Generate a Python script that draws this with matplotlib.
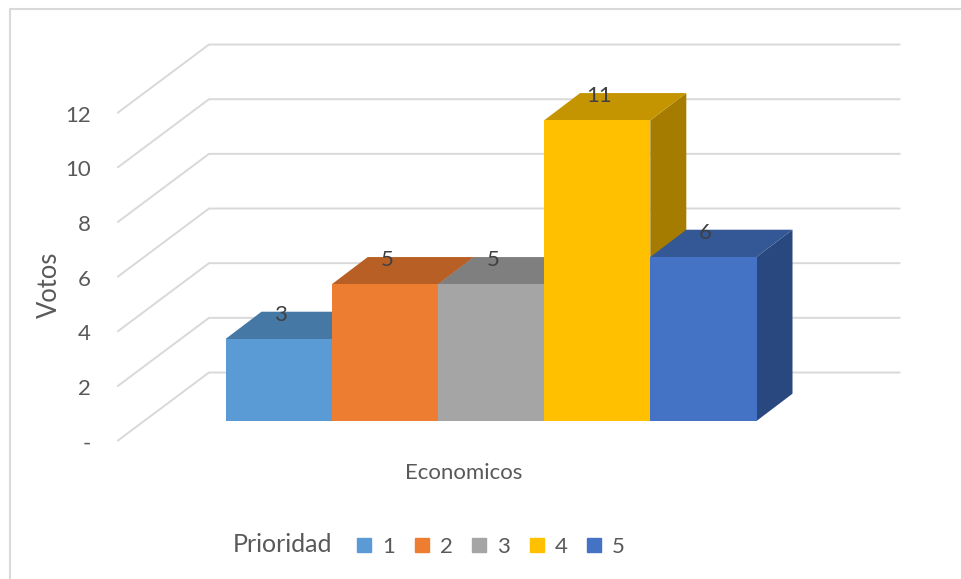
import matplotlib
matplotlib.use("Agg")
import matplotlib.pyplot as plt
from matplotlib.lines import Line2D
from matplotlib.patches import Patch

plt.rcParams['font.family'] = ['Lato', 'DejaVu Sans']

# data
prioridad = ['1', '2', '3', '4', '5']
votos = [3, 5, 5, 11, 6]
y_ticks = [0, 2, 4, 6, 8, 10, 12]
y_labels = ['-', '2', '4', '6', '8', '10', '12']
categoria = 'Economicos'

front_colors = ['#5B9BD5', '#ED7D31', '#A5A5A5', '#FFC000', '#4472C4']
top_colors = ['#4678A5', '#B85F26', '#7F7F7F', '#C49500', '#345796']
side_colors = ['#39618A', '#9C501F', '#6B6B6B', '#A67C00', '#29487F']
grid_color = '#D9D9D9'
text_color = '#595959'
label_color = '#404040'

# pixel scale of the plot: one bar wide / one vote high
W, H = 961, 579
px_x = 106.2
px_y = 27.33
x0_px = 225.5
y0_px = 421

fig = plt.figure(figsize=(W / 100, H / 100), dpi=100)
ax = fig.add_axes([0, 0, 1, 1])
ax.set_xlim(-x0_px / px_x, (W - x0_px) / px_x)
ax.set_ylim((y0_px - H) / px_y, y0_px / px_y)
ax.axis('off')

# depth of the fake 3d boxes
depth_x = 36 / px_x
depth_y = 27.3 / px_y

# walls of the chart
wall_x = (209 - x0_px) / px_x
wall_y = (y0_px - 372.5) / px_y
corner_x = (118 - x0_px) / px_x
corner_y = (y0_px - 440.5) / px_y
right_x = (899.5 - x0_px) / px_x

for t, lab in zip(y_ticks, y_labels):
    ax.plot([corner_x, wall_x, right_x], [corner_y + t, wall_y + t, wall_y + t],
            color=grid_color, lw=1.4, solid_joinstyle='miter', zorder=1)
    ax.text(corner_x - 27.5 / px_x, corner_y + t - 3 / px_y, lab, ha='right', va='center',
            fontsize=16, color=text_color)

# boxes, left to right so that the next one covers the side of the last
for i, v in enumerate(votos):
    z = 2 + i
    ax.fill([i + 1, i + 1 + depth_x, i + 1 + depth_x, i + 1],
            [0, depth_y, v + depth_y, v], color=side_colors[i], lw=0, zorder=z)
    ax.fill([i, i + depth_x, i + 1 + depth_x, i + 1],
            [v, v + depth_y, v + depth_y, v], color=top_colors[i], lw=0, zorder=z)
    ax.bar(i, v, width=1, align='edge', color=front_colors[i], lw=0, zorder=z)

for i, v in enumerate(votos):
    ax.text(i + 0.52, v + 0.89, str(v), ha='center', va='center',
            fontsize=16, color=label_color, zorder=10)

ax.text((464 - x0_px) / px_x, (y0_px - 473) / px_y, categoria, ha='center', va='center',
        fontsize=16, color=text_color)
ax.text((49 - x0_px) / px_x, (y0_px - 285) / px_y, 'Votos', ha='center', va='center',
        rotation=90, fontsize=18.4, color=text_color)
ax.text((233 - x0_px) / px_x, (y0_px - 545) / px_y, 'Prioridad', ha='left', va='center',
        fontsize=18, color=text_color)

handles = [Patch(color=c, label=p) for c, p in zip(front_colors, prioridad)]
ax.legend(handles=handles, ncol=5, frameon=False, loc='center left',
          bbox_to_anchor=(357 / W, 1 - 547 / H), fontsize=16, labelcolor=text_color,
          handlelength=0.63, handleheight=0.63, handletextpad=0.5, columnspacing=0.88,
          borderpad=0, borderaxespad=0)

# frame of the chart (only top and left show in the crop)
fig.add_artist(Line2D([9.5 / W, 9.5 / W, 1], [0, 1 - 9 / H, 1 - 9 / H],
                      color=grid_color, lw=1.5, solid_joinstyle='miter'))

fig.savefig('out.png', dpi=100, facecolor='white')
